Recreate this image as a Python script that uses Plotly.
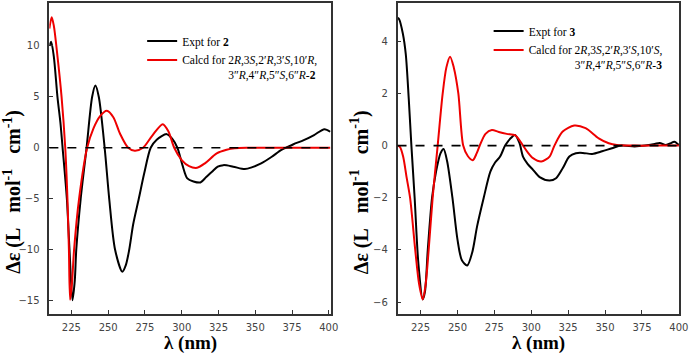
import plotly.graph_objects as go

# ---------------- data ----------------
# Left panel: compound 2
wl_expt2 = [210, 211.2, 213, 215.5, 217.5, 219, 221.9, 223.7, 225.7, 227.3, 228.3, 231.3, 235.3, 239.1, 241.3,
            243.6, 247.6, 250.7, 254.7, 259.6, 262, 264.3, 267, 270.8, 274.5, 278.9, 283, 289.8, 293.5, 297.1,
            300.5, 303.8, 308, 312.7, 316.5, 320.6, 324.5, 328.4, 335, 342.9, 348, 354, 361, 367.5, 370.8,
            376, 383, 390, 397, 401]
de_expt2 = [10.0, 10.4, 9.0, 5.0, 2.5, 0.0, -5.0, -10.0, -14.95, -13.0, -10.0, -5.0, 0.0, 5.0, 6.1,
            5.0, 0.0, -5.0, -10.0, -12.15, -11.5, -10.0, -7.5, -5.0, -2.5, 0.0, 0.8, 1.34, 0.9, 0.0,
            -1.7, -3.0, -3.3, -3.4, -2.9, -2.35, -1.85, -1.7, -1.85, -2.09, -1.9, -1.53, -0.9, -0.23, 0.0,
            0.35, 0.75, 1.25, 1.83, 1.57]

wl_calc2 = [210, 211.6, 213, 215.5, 218.3, 220.8, 222.3, 223.3, 224.1, 225.3, 226.8, 230.2, 235.7, 240,
            244.5, 249.1, 253.5, 258, 263.6, 268.1, 273.7, 280, 287.1, 291, 294.9, 300, 305, 310.5, 316,
            323.8, 330.5, 336, 345, 360, 380, 401]
de_calc2 = [11.7, 12.8, 12.0, 9.0, 5.0, 0.0, -5.0, -10.0, -14.9, -13.5, -10.0, -5.0, 0.0, 1.9,
            3.1, 3.63, 3.0, 1.4, 0.0, -0.29, 0.0, 1.2, 2.32, 1.6, 0.0, -1.2, -1.8, -1.96, -1.5,
            -0.55, -0.2, -0.05, 0.0, 0.0, 0.0, 0.0]

# Right panel: compound 3
wl_expt3 = [209.5, 210.5, 213, 215, 217, 218.8, 221, 223.5, 226.5, 228, 229.9, 232.8, 235.5, 238.5, 240.6,
            243, 246.6, 250, 253, 256.6, 260, 263.3, 267.8, 272.3, 275.5, 278.9, 282.3, 285.5, 289, 292,
            294.4, 297.5, 301.2, 305.7, 312.4, 316.8, 321.3, 325.8, 330.2, 335, 341.3, 348, 354.7, 361,
            370, 377, 383.6, 387, 391, 394, 397, 400]
de_expt3 = [4.9, 4.85, 4.3, 3.5, 1.8, 0.0, -2.0, -4.5, -5.9, -5.6, -4.0, -2.0, -1.0, -0.3, -0.13,
            -0.6, -2.0, -3.6, -4.4, -4.6, -4.1, -3.1, -2.0, -1.0, -0.65, -0.42, 0.0, 0.25, 0.41, 0.1,
            -0.42, -0.7, -0.93, -1.21, -1.34, -1.25, -0.87, -0.42, -0.29, -0.28, -0.32, -0.22, -0.1, 0.0,
            -0.03, 0.0, 0.06, 0.1, 0.02, 0.08, 0.15, 0.02]

wl_calc3 = [209.5, 211, 213.2, 215.5, 217.9, 221.4, 224, 226.5, 228.5, 230.5, 233.2, 236.6, 240, 242.5,
            245, 247.5, 250.6, 253.9, 257, 260.4, 263, 265.1, 269, 273.3, 278, 283.4, 289, 291.5, 294.5,
            297.5, 301.2, 306.8, 312.4, 315.7, 321.3, 329.1, 336.8, 345.7, 352.5, 358, 370, 385, 400]
de_calc3 = [0.0, -0.05, -0.42, -1.2, -2.0, -4.0, -5.3, -5.9, -5.3, -4.0, -2.0, 0.0, 2.0, 3.0,
            3.41, 3.0, 2.0, 0.0, -0.4, -0.56, -0.3, 0.0, 0.45, 0.6, 0.52, 0.45, 0.4, 0.25, 0.0,
            -0.25, -0.48, -0.61, -0.42, 0.0, 0.54, 0.77, 0.67, 0.28, 0.09, 0.02, 0.0, 0.0, 0.0]

x_ticks = [225, 250, 275, 300, 325, 350, 375, 400]
y_ticks_left = [-15, -10, -5, 0, 5, 10]
y_ticks_right = [-6, -4, -2, 0, 2, 4]

name_expt2 = "Expt for <b>2</b>"
name_calc2 = ("Calcd for 2<i>R</i>,3<i>S</i>,2\u2032<i>R</i>,3\u2032<i>S</i>,10\u2032<i>R</i>,<br>"
              + "\u00a0" * 16 + "3\u2033<i>R</i>,4\u2033<i>R</i>,5\u2033<i>S</i>,6\u2033<i>R</i>-<b>2</b>")
name_expt3 = "Expt for <b>3</b>"
name_calc3 = ("Calcd for 2<i>R</i>,3<i>S</i>,2\u2032<i>R</i>,3\u2032<i>S</i>,10\u2032<i>S</i>,<br>"
              + "\u00a0" * 16 + "3\u2033<i>R</i>,4\u2033<i>R</i>,5\u2033<i>S</i>,6\u2033<i>R</i>-<b>3</b>")

# ---------------- figure ----------------
BLACK = "#000000"
RED = "#ee0000"
AXC = "#333333"

fig = go.Figure()
fig.add_trace(go.Scatter(x=wl_expt2, y=de_expt2, mode="lines", name=name_expt2,
                         line=dict(color=BLACK, width=2, shape="spline", smoothing=0.8),
                         xaxis="x", yaxis="y", legend="legend"))
fig.add_trace(go.Scatter(x=wl_calc2, y=de_calc2, mode="lines", name=name_calc2,
                         line=dict(color=RED, width=2, shape="spline", smoothing=0.8),
                         xaxis="x", yaxis="y", legend="legend"))
fig.add_trace(go.Scatter(x=wl_expt3, y=de_expt3, mode="lines", name=name_expt3,
                         line=dict(color=BLACK, width=2, shape="spline", smoothing=0.8),
                         xaxis="x2", yaxis="y2", legend="legend2"))
fig.add_trace(go.Scatter(x=wl_calc3, y=de_calc3, mode="lines", name=name_calc3,
                         line=dict(color=RED, width=2, shape="spline", smoothing=0.8),
                         xaxis="x2", yaxis="y2", legend="legend2"))

W, H = 700, 355
def px(x):
    return x / W
def py(y):
    return 1 - y / H

tickfont = dict(family="DejaVu Sans", size=10, color="#444444")
common_x = dict(tickvals=x_ticks, ticks="inside", ticklen=4, tickwidth=1.2, tickcolor=AXC,
                showline=True, linecolor=AXC, linewidth=1.5, mirror=True, showgrid=False,
                zeroline=False, tickfont=tickfont, ticklabelstandoff=3)
common_y = dict(ticks="inside", ticklen=4, tickwidth=1.2, tickcolor=AXC,
                showline=True, linecolor=AXC, linewidth=1.5, mirror=True, showgrid=False,
                zeroline=False, tickfont=tickfont, ticklabelstandoff=6)

legfont = dict(family="Liberation Serif", size=11.5, color="black")
ydom = [py(314), py(3)]
fig.update_layout(
    width=W, height=H,
    margin=dict(l=0, r=0, t=0, b=0),
    paper_bgcolor="white", plot_bgcolor="white",
    xaxis=dict(domain=[px(50), px(335)], range=[210, 401.3], anchor="y", **common_x),
    yaxis=dict(domain=ydom, range=[-16.3, 14.2], tickvals=y_ticks_left, anchor="x", **common_y),
    xaxis2=dict(domain=[px(402.7), px(688)], range=[209.4, 400.2], anchor="y2", **common_x),
    yaxis2=dict(domain=ydom, range=[-6.46, 5.47], tickvals=y_ticks_right, anchor="x2", **common_y),
    legend=dict(x=px(144), y=py(27), xanchor="left", yanchor="top", bgcolor="rgba(0,0,0,0)",
                font=legfont, valign="top", tracegroupgap=0, itemclick=False),
    legend2=dict(x=px(495), y=py(17), xanchor="left", yanchor="top", bgcolor="rgba(0,0,0,0)",
                 font=legfont, valign="top", tracegroupgap=0, itemclick=False),
    showlegend=True,
)

# zero reference lines
for xr, yr in (("x domain", "y"), ("x2 domain", "y2")):
    fig.add_shape(type="line", xref=xr, x0=0, x1=1, yref=yr, y0=0, y1=0,
                  line=dict(color="black", width=1.6, dash="dash"), layer="above")

title_font = dict(family="Liberation Serif", size=19, color="black")
ytitle_font = dict(family="Liberation Serif", size=20, color="black")
ytitle = "<b>\u0394\u03b5\u00a0(L\u00a0\u00a0 mol<sup>-1</sup>\u00a0\u00a0 cm<sup>-1</sup>)</b>"
xtitle = "<b>\u03bb (nm)</b>"
for xc in (13, 365):
    fig.add_annotation(text=ytitle, xref="paper", yref="paper", x=px(xc), y=py(192),
                       xanchor="center", yanchor="middle", textangle=-90, showarrow=False,
                       font=ytitle_font)
for xc in ((50 + 335) / 2, (402.7 + 688) / 2):
    fig.add_annotation(text=xtitle, xref="paper", yref="paper", x=px(xc), y=py(343),
                       xanchor="center", yanchor="middle", showarrow=False, font=title_font)

fig.write_html("out.html", post_script="document.body.style.margin='0px';",
               config={"displayModeBar": False})
